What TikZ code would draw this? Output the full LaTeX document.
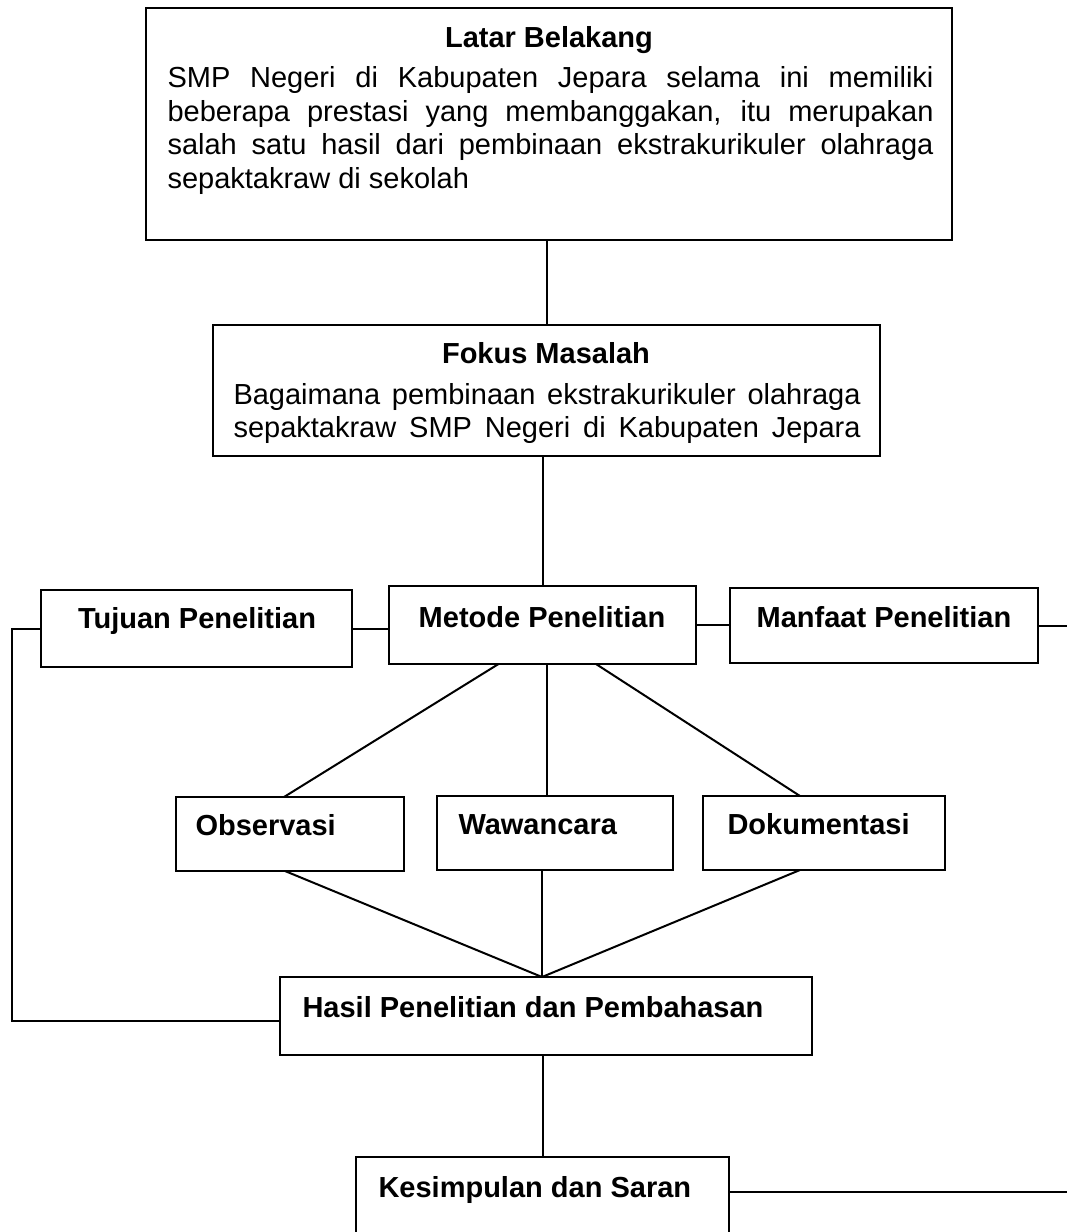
\documentclass[tikz,border=0pt]{standalone}
\usepackage{fontspec}
\setmainfont{Liberation Sans}
\usetikzlibrary{calc}

\begin{document}
\begin{tikzpicture}[x=0.4pt,y=-0.4pt,
  kotak/.style={draw,line width=0.8pt,inner sep=0pt,outer sep=0pt},
  judul/.style={font=\fontsize{11.6}{13.4}\selectfont\bfseries,inner sep=0pt,anchor=base},
  isi/.style={font=\fontsize{11.6}{13.4}\selectfont,inner sep=0pt,anchor=base west,align=justify},
  garis/.style={line width=0.8pt}]
\clip (0,0) rectangle (1067,1232);
%\draw[help lines,yellow,thin] (0,0) grid[step=100] (1067,1232);
\node  [kotak,minimum width=322.4pt,minimum height=92.8pt] (latar) at (549,124){};
\node  [kotak,minimum width=266.8pt,minimum height=52.4pt] (fokus) at (546.5,390.5){};
\node  [kotak,minimum width=124.4pt,minimum height=30.8pt] (tujuan) at (196.5,628.5){};
\node  [kotak,minimum width=122.8pt,minimum height=31.2pt] (metode) at (542.5,625){};
\node  [kotak,minimum width=123.2pt,minimum height=30pt] (manfaat) at (884,625.5){};
\node  [kotak,minimum width=91.2pt,minimum height=29.6pt] (observasi) at (290,834){};
\node  [kotak,minimum width=94.4pt,minimum height=29.6pt] (wawancara) at (555,833){};
\node  [kotak,minimum width=96.8pt,minimum height=29.6pt] (dokumentasi) at (824,833){};
\node  [kotak,minimum width=212.8pt,minimum height=31.2pt] (hasil) at (546,1016){};
\node  [kotak,minimum width=149.2pt,minimum height=34.8pt] (kesimpulan) at (542.5,1200.5){};
% teks
\node  [judul] (latar-j) at (549,48){Latar Belakang};
\node  [isi,text width=306.4pt] (latar-i) at (167,88){SMP Negeri di Kabupaten Jepara selama ini memiliki\linebreak beberapa prestasi yang membanggakan, itu merupakan\linebreak salah satu hasil dari pembinaan ekstrakurikuler olahraga\linebreak sepaktakraw di sekolah};
\node  [judul] (fokus-j) at (546,363){Fokus Masalah};
\node  [isi,text width=250.8pt] (fokus-i) at (233,404){Bagaimana pembinaan ekstrakurikuler olahraga\linebreak \makebox[250.8pt][s]{sepaktakraw SMP Negeri di Kabupaten Jepara}};
\node  [judul] (tujuan-j) at (197,628){Tujuan Penelitian};
\node  [judul] (metode-j) at (542,627){Metode Penelitian};
\node  [judul] (manfaat-j) at (884,627){Manfaat Penelitian};
\node  [judul,anchor=base west] (observasi-j) at (195,835){Observasi};
\node  [judul,anchor=base west] (wawancara-j) at (458,834){Wawancara};
\node  [judul,anchor=base west] (dokumentasi-j) at (727,834){Dokumentasi};
\node  [judul,anchor=base west] (hasil-j) at (302,1017){Hasil Penelitian dan Pembahasan};
\node  [judul,anchor=base west] (kesimpulan-j) at (378,1197){Kesimpulan dan Saran};
% garis
\coordinate (kanan1) at (1067,627);
\coordinate (kanan2) at (1067,1192);
\coordinate (kiri) at (12,1021);
\coordinate (temu) at ($(hasil.north)+(-4,0)$);
\draw [garis] (fokus.north) -- (fokus.north |- latar.south);
\draw [garis] (metode.north) -- (metode.north |- fokus.south);
\draw [garis] (tujuan.east) -- (tujuan.east -| metode.west);
\draw [garis] (metode.east) -- (metode.east -| manfaat.west);
\draw [garis] (manfaat.east) -- (manfaat.east -| kanan1);
\draw [garis] (tujuan.west) -| (kiri) -- (kiri -| hasil.west);
\draw [garis] ($(metode.south)+(-44,0)$) -- ($(observasi.north)+(-6,0)$);
\draw [garis] ($(metode.south)+(4.5,0)$) -- ($(wawancara.north)+(-8,0)$);
\draw [garis] ($(metode.south)+(53.5,0)$) -- ($(dokumentasi.north)+(-24,0)$);
\draw [garis] ($(observasi.south)+(-5,0)$) -- (temu);
\draw [garis] ($(wawancara.south)+(-13,0)$) -- (temu);
\draw [garis] ($(dokumentasi.south)+(-24,0)$) -- (temu);
\draw [garis] (kesimpulan.north |- hasil.south) -- (kesimpulan.north);
\draw [garis] (kesimpulan.east |- kanan2) -- (kanan2);
\end{tikzpicture}
\end{document}
